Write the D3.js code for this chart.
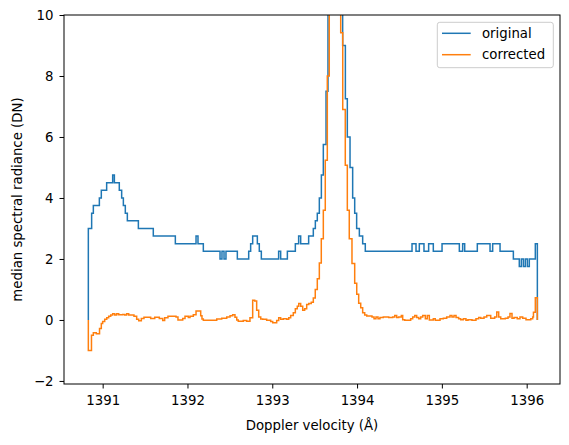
<!DOCTYPE html>
<html>
<head>
<meta charset="utf-8">
<script src="https://cdn.jsdelivr.net/npm/d3@7"></script>
<style>
  body { margin: 0; background: #fff; }
  svg text { font-family: "DejaVu Sans", sans-serif; fill: #000; }
</style>
</head>
<body>
<svg id="chart" width="569" height="445"></svg>
<script>
// step change points (wavelength in Å, value from that point on)
let originalX = [1390.831, 1390.831, 1390.870, 1390.890, 1390.961, 1390.984, 1391.047, 1391.118, 1391.138, 1391.196,
    1391.224, 1391.244, 1391.267, 1391.291, 1391.421, 1391.597, 1391.857, 1392.101, 1392.124, 1392.187,
    1392.384, 1392.407, 1392.431, 1392.454, 1392.588, 1392.722, 1392.745, 1392.769, 1392.824, 1392.847,
    1392.871, 1393.075, 1393.099, 1393.178, 1393.272, 1393.311, 1393.335, 1393.429, 1393.484, 1393.508,
    1393.531, 1393.555, 1393.579, 1393.602, 1393.634, 1393.657, 1393.683, 1393.708, 1393.734, 1393.759,
    1393.785, 1393.809, 1393.830, 1393.862, 1393.885, 1393.917, 1393.948, 1393.972, 1393.995, 1394.027,
    1394.066, 1394.097, 1394.648, 1394.695, 1394.734, 1394.789, 1394.844, 1394.899, 1395.002, 1395.206,
    1395.245, 1395.269, 1395.418, 1395.568, 1395.599, 1395.686, 1395.843, 1395.913, 1395.937, 1395.961,
    1395.984, 1396.008, 1396.031, 1396.102, 1396.126];
let originalY = [0, 3.0, 3.5, 3.75, 4.0, 4.25, 4.5, 4.75, 4.5, 4.25,
    4.0, 3.75, 3.5, 3.25, 3.0, 2.75, 2.5, 2.75, 2.5, 2.25,
    2.0, 2.25, 2.0, 2.25, 2.0, 2.25, 2.5, 2.75, 2.5, 2.25,
    2.0, 2.25, 2.0, 2.25, 2.5, 2.75, 2.5, 2.75, 3.0, 3.25,
    3.5, 4.0, 4.75, 5.75, 7.5, 12, 16, 20, 21, 19,
    15, 11.5, 9.0, 7.25, 6.0, 5.0, 4.0, 3.5, 3.0, 2.75,
    2.5, 2.25, 2.5, 2.25, 2.5, 2.25, 2.5, 2.25, 2.5, 2.25,
    2.5, 2.25, 2.5, 2.25, 2.5, 2.25, 2.0, 1.75, 2.0, 1.75,
    2.0, 1.75, 2.0, 2.5, 0];

let correctedX = [1390.831, 1390.831, 1390.868, 1390.890, 1390.925, 1390.963, 1390.984, 1391.000, 1391.024, 1391.048,
    1391.071, 1391.095, 1391.118, 1391.142, 1391.165, 1391.189, 1391.236, 1391.260, 1391.283, 1391.307,
    1391.369, 1391.401, 1391.425, 1391.456, 1391.487, 1391.566, 1391.614, 1391.668, 1391.708, 1391.731,
    1391.770, 1391.865, 1391.888, 1391.944, 1391.971, 1392.010, 1392.030, 1392.069, 1392.101, 1392.156,
    1392.171, 1392.187, 1392.345, 1392.404, 1392.463, 1392.502, 1392.533, 1392.560, 1392.581, 1392.599,
    1392.658, 1392.698, 1392.737, 1392.769, 1392.793, 1392.816, 1392.840, 1392.864, 1392.887, 1392.934,
    1392.981, 1393.005, 1393.052, 1393.076, 1393.099, 1393.130, 1393.170, 1393.194, 1393.217, 1393.248,
    1393.272, 1393.295, 1393.312, 1393.335, 1393.359, 1393.382, 1393.406, 1393.430, 1393.460, 1393.484,
    1393.507, 1393.531, 1393.555, 1393.578, 1393.602, 1393.625, 1393.649, 1393.672, 1393.698, 1393.724,
    1393.752, 1393.779, 1393.807, 1393.831, 1393.861, 1393.885, 1393.908, 1393.940, 1393.972, 1393.996,
    1394.019, 1394.043, 1394.066, 1394.090, 1394.114, 1394.176, 1394.200, 1394.223, 1394.247, 1394.270,
    1394.309, 1394.373, 1394.420, 1394.444, 1394.467, 1394.491, 1394.522, 1394.538, 1394.562, 1394.632,
    1394.656, 1394.680, 1394.703, 1394.727, 1394.750, 1394.774, 1394.805, 1394.828, 1394.852, 1394.899,
    1394.922, 1394.978, 1395.017, 1395.057, 1395.096, 1395.119, 1395.143, 1395.167, 1395.198, 1395.222,
    1395.253, 1395.284, 1395.308, 1395.355, 1395.402, 1395.434, 1395.458, 1395.497, 1395.529, 1395.576,
    1395.623, 1395.647, 1395.670, 1395.694, 1395.748, 1395.780, 1395.803, 1395.827, 1395.851, 1395.889,
    1395.921, 1395.953, 1395.992, 1396.048, 1396.071, 1396.080, 1396.102, 1396.126];
let correctedY = [0, -1.0, -0.5, -0.42, -0.45, -0.28, -0.12, -0.05, 0.02, 0.07,
    0.12, 0.16, 0.20, 0.16, 0.20, 0.17, 0.18, 0.16, 0.20, 0.16,
    0.12, 0.02, -0.03, 0.05, 0.09, 0.05, 0.09, 0.05, -0.02, 0.07,
    0.12, 0.10, 0.0, 0.05, 0.12, 0.08, 0.12, 0.17, 0.29, 0.14,
    0.03, -0.01, 0.03, 0.06, 0.10, 0.14, 0.17, 0.09, 0.0, -0.04,
    -0.02, -0.04, 0.07, 0.65, 0.62, 0.32, 0.10, 0.03, 0.02, -0.01,
    -0.05, -0.09, -0.02, 0.07, 0.02, 0.04, 0.02, 0.07, 0.15, 0.24,
    0.37, 0.45, 0.54, 0.45, 0.32, 0.37, 0.51, 0.54, 0.58, 0.72,
    1.0, 1.35, 1.87, 2.66, 3.6, 5.24, 8.0, 11, 15, 18,
    18.5, 14, 9.42, 6.9, 5.07, 3.6, 2.66, 1.85, 1.2, 0.84,
    0.55, 0.4, 0.24, 0.16, 0.13, 0.10, 0.04, 0.10, 0.04, 0.08,
    0.10, 0.08, 0.10, 0.15, 0.08, 0.10, 0.15, 0.01, -0.01, 0.04,
    0.10, 0.15, 0.08, 0.04, 0.10, 0.15, 0.04, 0.15, 0.0, 0.04,
    -0.01, 0.04, 0.06, 0.10, 0.15, 0.10, 0.15, 0.08, 0.04, 0.01,
    0.04, -0.01, 0.01, -0.01, 0.04, 0.08, 0.06, 0.10, 0.15, 0.06,
    0.10, 0.26, 0.10, 0.04, 0.06, 0.10, 0.21, 0.06, 0.08, 0.04,
    0.10, 0.06, 0.01, 0.04, 0.10, 0.25, 0.73, 0];

let xTicks = [1391, 1392, 1393, 1394, 1395, 1396];
let yTicks = [-2, 0, 2, 4, 6, 8, 10];
let seriesNames = ["original", "corrected"];
let colors = ["#1f77b4", "#ff7f0e"];

function drawChart() {
    let svg = d3.select("#chart");
    let margin = {top: 15, right: 9, bottom: 61, left: 64};
    let width = +svg.attr("width") - margin.left - margin.right;
    let height = +svg.attr("height") - margin.top - margin.bottom;
    let g = svg.append("g").attr("transform", "translate(" + margin.left + "," + margin.top + ")");
    let fontSize = 13.3;

    let x = d3.scaleLinear().domain([1390.544, 1396.393]).range([0, width]);
    let y = d3.scaleLinear().domain([-2.1, 10]).range([height, 0]);

    g.append("clipPath").attr("id", "clip")
        .append("rect").attr("width", width).attr("height", height);

    let line = d3.line()
        .x(d => x(d[0]))
        .y(d => y(d[1]))
        .curve(d3.curveStepAfter);

    let series = [
        d3.zip(originalX, originalY),
        d3.zip(correctedX, correctedY)
    ];

    g.append("g")
        .attr("clip-path", "url(#clip)")
        .selectAll("path")
        .data(series)
        .enter().append("path")
        .attr("d", line)
        .attr("fill", "none")
        .attr("stroke", (d, i) => colors[i])
        .attr("stroke-width", 1.5)
        .attr("stroke-linejoin", "miter");

    let xAxis = g.append("g")
        .attr("transform", "translate(0," + height + ")")
        .call(d3.axisBottom(x).tickValues(xTicks).tickFormat(d3.format("d")).tickSize(4.5).tickPadding(7.5));

    let yAxis = g.append("g")
        .call(d3.axisLeft(y).tickValues(yTicks).tickFormat(d => d < 0 ? "\u2212" + Math.abs(d) : d).tickSize(4.5).tickPadding(6));

    [xAxis, yAxis].forEach(a => {
        a.select(".domain").remove();
        a.selectAll("line").attr("stroke", "#000").attr("stroke-width", 1);
        a.selectAll("text").attr("font-size", fontSize).attr("font-family", "DejaVu Sans");
    });

    // frame
    g.append("rect")
        .attr("width", width).attr("height", height)
        .attr("fill", "none").attr("stroke", "#000").attr("stroke-width", 1);

    g.append("text")
        .attr("x", width / 2).attr("y", height + 46)
        .attr("text-anchor", "middle")
        .attr("font-size", fontSize)
        .text("Doppler velocity (\u00c5)");

    g.append("text")
        .attr("transform", "translate(" + (-42) + "," + (height / 2) + ") rotate(-90)")
        .attr("text-anchor", "middle")
        .attr("font-size", fontSize)
        .text("median spectral radiance (DN)");

    // legend
    let legend = g.append("g").attr("transform", "translate(" + (width - 122.7) + ",7.3)");
    legend.append("rect")
        .attr("width", 116).attr("height", 45.4)
        .attr("rx", 2.5)
        .attr("fill", "#fff").attr("fill-opacity", 0.8)
        .attr("stroke", "#ccc").attr("stroke-width", 1);

    let items = legend.selectAll(".item")
        .data(seriesNames)
        .enter().append("g")
        .attr("class", "item")
        .attr("transform", (d, i) => "translate(0," + (11 + i * 21.4) + ")");

    items.append("line")
        .attr("x1", 4.7).attr("x2", 33.4)
        .attr("stroke", (d, i) => colors[i])
        .attr("stroke-width", 1.5);

    items.append("text")
        .attr("x", 44.7).attr("dy", "0.35em")
        .attr("font-size", fontSize)
        .text(d => d);
}

drawChart();
</script>
</body>
</html>
